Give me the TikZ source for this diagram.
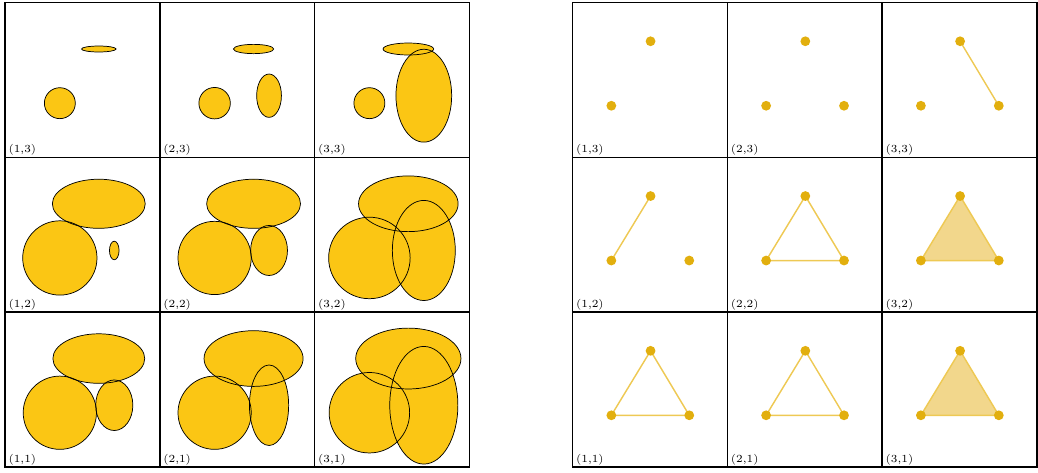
\documentclass[tikz,border=0pt]{standalone}

\definecolor{ballfill}{RGB}{251,198,20}
\definecolor{dotcol}{RGB}{226,175,14}
\definecolor{edgecol}{RGB}{238,201,84}
\definecolor{trifill}{RGB}{242,215,140}

\tikzset{
  ball/.style={fill=ballfill},
  rim/.style={draw=black, thin},
  cellbox/.style={thick},
  celllabel/.style={font=\fontsize{6}{7}\selectfont, inner sep=0pt, anchor=base west},
  vertex/.style={circle, fill=dotcol, inner sep=0pt, minimum size=0.19cm},
  edge/.style={draw=edgecol, line width=0.8pt},
  face/.style={fill=trifill, draw=edgecol, line width=0.8pt, line join=round},
}

% radius of A, radii of C, radii of B
\newcommand{\blobs}[5]{%
  \fill[ball] (1.06,1.05) circle (#1);
  \fill[ball] (1.815,2.10) ellipse [x radius=#2, y radius=#3];
  \fill[ball] (2.115,1.195) ellipse [x radius=#4, y radius=#5];
  \draw[rim] (1.06,1.05) circle (#1);
  \draw[rim] (1.815,2.10) ellipse [x radius=#2, y radius=#3];
  \draw[rim] (2.115,1.195) ellipse [x radius=#4, y radius=#5];
}

\begin{document}
\begin{tikzpicture}
\useasboundingbox (-0.1,-0.1) rectangle (20.02,9.05);

% left grid: growing balls
\begin{scope}[shift={(0,6)}]
\fill[ball] (1.06,1.05) circle (0.30);
\fill[ball] (1.815,2.10) ellipse [x radius=0.335, y radius=0.058];
\draw[rim] (1.06,1.05) circle (0.30);
\draw[rim] (1.815,2.10) ellipse [x radius=0.335, y radius=0.058];
\end{scope}
\begin{scope}[shift={(3,6)}] \blobs{0.305}{0.39}{0.09}{0.24}{0.42} \end{scope}
\begin{scope}[shift={(6,6)}] \blobs{0.30}{0.49}{0.116}{0.54}{0.90} \end{scope}
\begin{scope}[shift={(0,3)}] \blobs{0.72}{0.90}{0.476}{0.093}{0.18} \end{scope}
\begin{scope}[shift={(3,3)}] \blobs{0.71}{0.91}{0.476}{0.357}{0.485} \end{scope}
\begin{scope}[shift={(6,3)}] \blobs{0.79}{0.965}{0.54}{0.61}{0.97} \end{scope}
\begin{scope}[shift={(0,0)}] \blobs{0.71}{0.89}{0.48}{0.36}{0.49} \end{scope}
\begin{scope}[shift={(3,0)}] \blobs{0.71}{0.96}{0.54}{0.38}{0.78} \end{scope}
\begin{scope}[shift={(6,0)}] \blobs{0.78}{1.02}{0.59}{0.66}{1.14} \end{scope}

% right grid: vertex positions
\foreach \i in {1,2,3} {
  \foreach \j in {1,2,3} {
    \coordinate (l-\i-\j) at (8+3*\i+0.75, 3*\j-3+1);
    \coordinate (r-\i-\j) at (8+3*\i+2.26, 3*\j-3+1);
    \coordinate (t-\i-\j) at (8+3*\i+1.51, 3*\j-3+2.25);
  }
}

% edges and faces
\draw[edge] (t-3-3) -- (r-3-3);
\draw[edge] (l-1-2) -- (t-1-2);
\draw[edge] (l-2-2) -- (r-2-2) -- (t-2-2) -- cycle;
\draw[edge] (l-1-1) -- (r-1-1) -- (t-1-1) -- cycle;
\draw[edge] (l-2-1) -- (r-2-1) -- (t-2-1) -- cycle;
\filldraw[face] (l-3-2) -- (r-3-2) -- (t-3-2) -- cycle;
\filldraw[face] (l-3-1) -- (r-3-1) -- (t-3-1) -- cycle;

% vertices
\foreach \i in {1,2,3} {
  \foreach \j in {1,2,3} {
    \node[vertex] (dl-\i-\j) at (l-\i-\j) {};
    \node[vertex] (dt-\i-\j) at (t-\i-\j) {};
  }
}
\foreach \i/\j in {2/3,3/3,1/2,2/2,3/2,1/1,2/1,3/1}
  \node[vertex] (dr-\i-\j) at (r-\i-\j) {};

% cell frames and labels
\foreach \x in {0,11} {
  \foreach \i in {1,2,3} {
    \foreach \j in {1,2,3} {
      \draw[cellbox] (\x+3*\i-3,3*\j-3) rectangle +(3,3);
      \node[celllabel] (lab-\x-\i-\j) at (\x+3*\i-3+0.06,3*\j-3+0.09) {(\i,\j)};
    }
  }
}
\end{tikzpicture}
\end{document}
